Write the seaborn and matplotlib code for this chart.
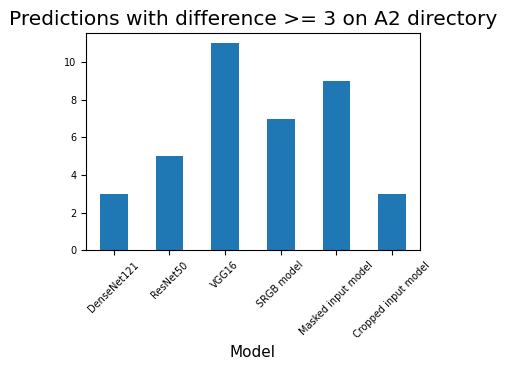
import matplotlib
matplotlib.use("Agg")
import matplotlib.pyplot as plt
import seaborn as sns
import pandas as pd

models = ["DenseNet121", "ResNet50", "VGG16", "SRGB model",
          "Masked input model", "Cropped input model"]
counts = [3, 5, 11, 7, 9, 3]

df = pd.DataFrame({"Model": models, "count": counts})

fig = plt.figure(figsize=(5.09, 3.75), dpi=100)
ax = fig.add_axes([0.169, 0.333, 0.656, 0.579])
sns.barplot(data=df, x="Model", y="count", color="#1f77b4", saturation=1,
            width=0.5, ax=ax)
ax.set_xlim(-0.5, 5.5)
ax.set_ylim(0, 11.55)
ax.set_ylabel("")
ax.set_xlabel("Model", fontsize=11)
ax.set_title("Predictions with difference >= 3 on A2 directory", fontsize=14.5)
ax.tick_params(axis="both", labelsize=7)
plt.setp(ax.get_xticklabels(), rotation=45)
fig.savefig("out.png", dpi=100)
